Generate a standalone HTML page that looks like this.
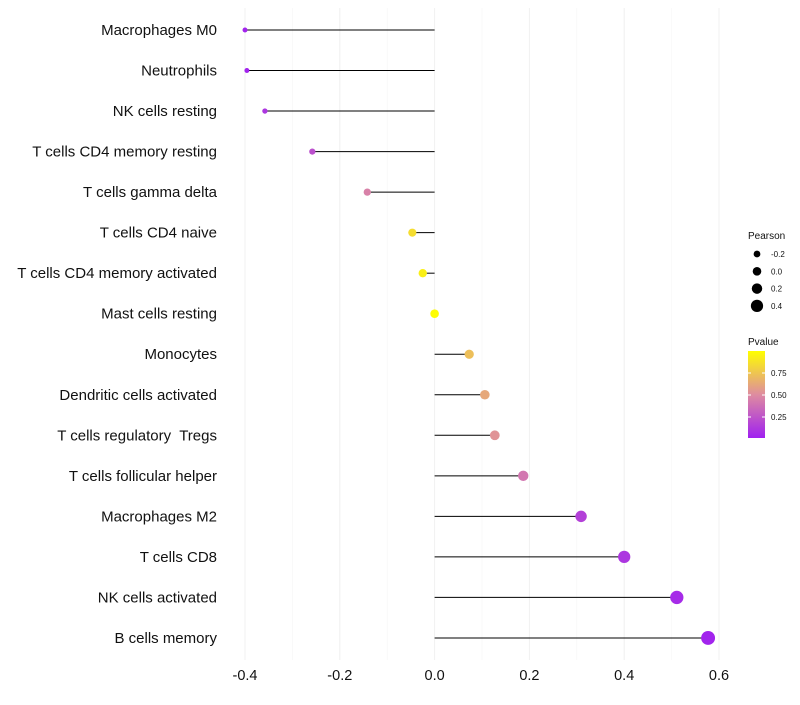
<!DOCTYPE html>
<html><head><meta charset="utf-8"><style>
body{margin:0;background:#fff;font-family:"Liberation Sans",sans-serif}
</style></head><body>
<svg id="c" width="800" height="700" xmlns="http://www.w3.org/2000/svg"></svg>
<script>
const categories=["Macrophages M0","Neutrophils","NK cells resting","T cells CD4 memory resting","T cells gamma delta","T cells CD4 naive","T cells CD4 memory activated","Mast cells resting","Monocytes","Dendritic cells activated","T cells regulatory  Tregs","T cells follicular helper","Macrophages M2","T cells CD8","NK cells activated","B cells memory"];
const pearson=[-0.400,-0.396,-0.358,-0.258,-0.142,-0.047,-0.025,0.0,0.073,0.106,0.127,0.187,0.309,0.400,0.511,0.577];
const pvalues=[0.02,0.02,0.1,0.22,0.45,0.85,0.93,0.99,0.72,0.62,0.53,0.4,0.15,0.1,0.05,0.02];
const xTicks=[-0.4,-0.2,0.0,0.2,0.4,0.6];
const xMinor=[-0.3,-0.1,0.1,0.3,0.5];
const sizeLegend=[-0.2,0.0,0.2,0.4];
const pTicks=[0.25,0.5,0.75];
const NS="http://www.w3.org/2000/svg";
const svg=document.getElementById('c');
const x=v=>434.6+v*474;
const y=i=>30+i*40.53;
const r=v=>4.3+4.6*v;
function col(p){
 const s=[[0,[160,32,240]],[0.5,[222,140,160]],[1,[255,255,0]]];
 let a=s[0],b=s[1];if(p>0.5){a=s[1];b=s[2];}
 const t=(p-a[0])/(b[0]-a[0]);
 return 'rgb('+a[1].map((c,k)=>Math.round(c+(b[1][k]-c)*t)).join(',')+')';
}
function el(t,at,txt){const e=document.createElementNS(NS,t);for(const k in at)e.setAttribute(k,at[k]);if(txt!==undefined)e.textContent=txt;svg.appendChild(e);return e;}
xMinor.forEach(v=>{const e=el('line',{x1:x(v),x2:x(v),y1:8,y2:660,stroke:'#f6f6f6','stroke-width':0.6});

});
xTicks.forEach(v=>{const e=el('line',{x1:x(v),x2:x(v),y1:8,y2:660,stroke:'#f0f0f0','stroke-width':1});


const t=el('text',{x:x(v),y:680,'text-anchor':'middle','font-size':14.5,fill:'#111'},v.toFixed(1));

});
categories.forEach((c,i)=>{
 const l=el('text',{x:217,y:y(i)+5,'text-anchor':'end','font-size':15,fill:'#111','style':'white-space:pre'},c);
 
 
 const s=el('line',{x1:x(0),x2:x(pearson[i]),y1:y(i),y2:y(i),stroke:'#000','stroke-width':1});
 
 
 const d=el('circle',{cx:x(pearson[i]),cy:y(i),r:r(pearson[i]),fill:col(pvalues[i])});
 
 
});
const lt=el('text',{x:748,y:239,'font-size':10,fill:'#111'},'Pearson');


sizeLegend.forEach((v,k)=>{const cy=254+k*17.3;
 const c=el('circle',{cx:757,cy:cy,r:r(v),fill:'#000'});
 
 
 const t=el('text',{x:771,y:cy+3,'font-size':8,fill:'#111'},v.toFixed(1));
 
 });
const pt=el('text',{x:748,y:345,'font-size':10,fill:'#111'},'Pvalue');


const defs=el('defs',{});
const g=document.createElementNS(NS,'linearGradient');g.setAttribute('id','pg');g.setAttribute('x1',0);g.setAttribute('y1',1);g.setAttribute('x2',0);g.setAttribute('y2',0);defs.appendChild(g);
for(let k=0;k<=10;k++){const st=document.createElementNS(NS,'stop');st.setAttribute('offset',k/10);st.setAttribute('stop-color',col(k/10));g.appendChild(st);}
const bar=el('rect',{x:748,y:351,width:17,height:87,fill:'url(#pg)'});


const py=p=>439-p*88;
pTicks.forEach(p=>{el('line',{x1:748,x2:751,y1:py(p),y2:py(p),stroke:'#fff'});el('line',{x1:762,x2:765,y1:py(p),y2:py(p),stroke:'#fff'});
 const t=el('text',{x:771,y:py(p)+3,'font-size':8,fill:'#111'},p.toFixed(2));
 
 });
</script>
</body></html>
